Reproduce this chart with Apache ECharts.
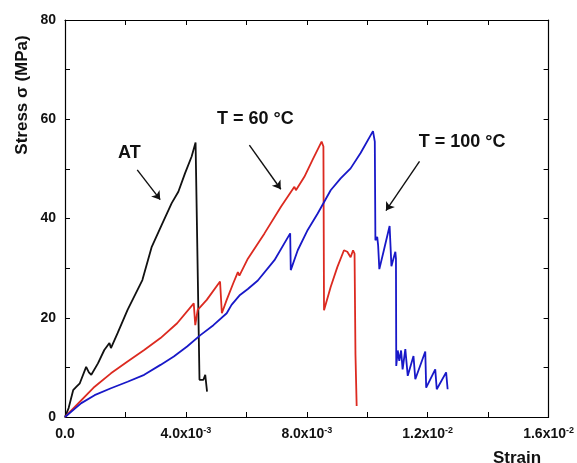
<!DOCTYPE html>
<html>
<head>
<meta charset="utf-8">
<script src="https://cdn.jsdelivr.net/npm/echarts@6/dist/echarts.min.js"></script>
<style>html,body{margin:0;padding:0;background:#fff;}#c{width:577px;height:463px;}</style>
</head>
<body>
<div id="c"></div>
<script>
// ---- data (strain, stress in MPa) ----
const atStrain = [0, 0.00012, 0.00027, 0.00038, 0.00049, 0.0007, 0.00079, 0.00087, 0.00109, 0.0013, 0.00147, 0.00152, 0.00174, 0.00207, 0.00256, 0.00287, 0.0032, 0.00353, 0.00375, 0.00397, 0.00419, 0.00432, 0.00437, 0.00445, 0.00458, 0.00464, 0.0047];
const atStress = [0, 1.8, 5.4, 6.1, 6.8, 10.1, 9.0, 8.5, 10.8, 13.5, 14.9, 13.9, 16.9, 21.6, 27.6, 34.3, 38.7, 43.1, 45.4, 49.1, 52.5, 55.3, 54.9, 7.5, 7.5, 8.5, 5.1];

const t60Strain = [0, 0.00098, 0.00152, 0.00207, 0.00262, 0.00316, 0.00371, 0.00426, 0.00431, 0.00439, 0.00469, 0.00513, 0.00519, 0.00535, 0.00557, 0.00572, 0.00577, 0.00605, 0.0066, 0.00715, 0.00759, 0.00764, 0.00792, 0.00819, 0.00849, 0.00855, 0.00857, 0.00879, 0.00901, 0.00923, 0.00934, 0.00945, 0.00953, 0.00958, 0.00961, 0.00965];
const t60Stress = [0, 6.1, 8.8, 11.2, 13.5, 15.9, 18.9, 22.9, 18.5, 21.6, 23.6, 27.3, 20.9, 23.6, 27.0, 29.2, 28.5, 31.9, 37.0, 42.4, 46.4, 45.7, 48.4, 51.8, 55.5, 54.5, 21.5, 26.2, 30.2, 33.6, 33.3, 32.2, 33.6, 32.9, 12.7, 2.2];

const t100Strain = [0, 0.00054, 0.00098, 0.00152, 0.00207, 0.00262, 0.00316, 0.0036, 0.00404, 0.00448, 0.00491, 0.00535, 0.00551, 0.00579, 0.00605, 0.00638, 0.00693, 0.00745, 0.00747, 0.0077, 0.00803, 0.00836, 0.00879, 0.00912, 0.00945, 0.00978, 0.01019, 0.01025, 0.01027, 0.01033, 0.01036, 0.0104, 0.01055, 0.01074, 0.0108, 0.01088, 0.01093, 0.01095, 0.01096, 0.01101, 0.01106, 0.01112, 0.01117, 0.01126, 0.01134, 0.01153, 0.01159, 0.01192, 0.01195, 0.01225, 0.0123, 0.01261, 0.01266];
const t100Stress = [0, 2.8, 4.4, 5.8, 7.1, 8.5, 10.5, 12.2, 14.2, 16.5, 18.5, 20.9, 22.6, 24.6, 25.8, 27.5, 31.6, 37.0, 29.6, 33.6, 37.7, 41.0, 45.7, 48.1, 50.1, 53.2, 57.6, 55.5, 35.6, 36.3, 34.6, 29.8, 33.6, 38.5, 30.4, 32.2, 33.3, 31.9, 10.3, 13.4, 11.3, 13.4, 9.6, 13.7, 8.3, 12.3, 7.6, 13.2, 5.9, 9.6, 5.6, 9.0, 5.6];

// tick labels
const xLabelValues = [0, 0.004, 0.008, 0.012, 0.016];
const xLabelMantissas = ['0.0', '4.0', '8.0', '1.2', '1.6'];
const xLabelExponents = ['', '-3', '-3', '-2', '-2'];
const yLabelValues = [0, 20, 40, 60, 80];

// annotations (data coordinates)
const annoTexts = ['AT', 'T = 60 °C', 'T = 100 °C'];
const annoTextPos = [[0.00213, 53.1], [0.0063, 60.1], [0.01314, 55.5]];
const arrowStart = [[0.00239, 49.8], [0.0061, 54.8], [0.01173, 51.5]];
const arrowEnd = [[0.00315, 43.8], [0.00714, 45.9], [0.01062, 41.6]];

const FONT = "'Liberation Sans', Arial, sans-serif";
const zip = (a, b) => a.map((v, i) => [v, b[i]]);

const chart = echarts.init(document.getElementById('c'), null, {renderer: 'canvas'});

const xFmt = function (v) {
  for (let i = 0; i < xLabelValues.length; i++) {
    if (Math.abs(v - xLabelValues[i]) < 1e-9) {
      return xLabelExponents[i] ? '{m|' + xLabelMantissas[i] + 'x10}{e|' + xLabelExponents[i] + '}' : '{m|' + xLabelMantissas[i] + '}';
    }
  }
  return '';
};
const yFmt = function (v) {
  return yLabelValues.indexOf(Math.round(v)) >= 0 && Math.abs(v - Math.round(v)) < 1e-9 ? String(Math.round(v)) : '';
};

const axisLine = {show: true, onZero: false, lineStyle: {color: '#000', width: 1.2}};
const axisTick = {show: true, inside: true, length: 5, lineStyle: {color: '#000', width: 1}};

const markLineData = arrowStart.map((s, i) => [{coord: s}, {coord: arrowEnd[i]}]);
const markPointData = annoTexts.map((t, i) => ({coord: annoTextPos[i], value: t}));

chart.setOption({
  animation: false,
  backgroundColor: '#fff',
  grid: {left: 65, right: 23, top: 20, bottom: 46, containLabel: false},
  xAxis: [
    {
      type: 'value', min: 0, max: 0.016, interval: 0.002, position: 'bottom',
      axisLine, axisTick, splitLine: {show: false},
      axisLabel: {
        formatter: xFmt, margin: 9, color: '#111',
        rich: {
          m: {fontSize: 14, fontWeight: 'bold', fontFamily: FONT, color: '#111', lineHeight: 16},
          e: {fontSize: 9, fontWeight: 'bold', fontFamily: FONT, color: '#111', verticalAlign: 'top', lineHeight: 9}
        }
      }
    },
    {
      type: 'value', min: 0, max: 0.016, interval: 0.002, position: 'top',
      axisLine, axisTick, splitLine: {show: false}, axisLabel: {show: false}
    }
  ],
  yAxis: [
    {
      type: 'value', min: 0, max: 80, interval: 10, position: 'left',
      axisLine, axisTick, splitLine: {show: false},
      axisLabel: {formatter: yFmt, margin: 9, fontSize: 14, fontWeight: 'bold', fontFamily: FONT, color: '#111'}
    },
    {
      type: 'value', min: 0, max: 80, interval: 10, position: 'right',
      axisLine, axisTick, splitLine: {show: false}, axisLabel: {show: false}
    }
  ],
  series: [
    {
      name: 'AT', type: 'line', data: zip(atStrain, atStress), showSymbol: false, symbol: 'none',
      lineStyle: {color: '#111', width: 1.8}, itemStyle: {color: '#111'},
      markLine: {
        silent: true, symbol: ['none', 'arrow'], symbolSize: 8, animation: false,
        label: {show: false}, lineStyle: {color: '#111', width: 1.4, type: 'solid'},
        data: markLineData
      },
      markPoint: {
        silent: true, symbol: 'circle', symbolSize: 0, animation: false,
        label: {show: true, position: 'inside', formatter: p => p.value, fontSize: 18, fontWeight: 'bold', fontFamily: FONT, color: '#111'},
        data: markPointData
      }
    },
    {
      name: 'T = 60 °C', type: 'line', data: zip(t60Strain, t60Stress), showSymbol: false, symbol: 'none',
      lineStyle: {color: '#dc2a20', width: 1.8}, itemStyle: {color: '#dc2a20'}
    },
    {
      name: 'T = 100 °C', type: 'line', data: zip(t100Strain, t100Stress), showSymbol: false, symbol: 'none',
      lineStyle: {color: '#1818c8', width: 1.8}, itemStyle: {color: '#1818c8'}
    }
  ],
  graphic: [
    {
      type: 'text', x: 22, y: 95, rotation: Math.PI / 2,
      style: {text: 'Stress σ (MPa)', fontSize: 17, fontWeight: 'bold', fontFamily: FONT, fill: '#111', align: 'center', verticalAlign: 'middle'}
    },
    {
      type: 'text', x: 517, y: 458,
      style: {text: 'Strain', fontSize: 17, fontWeight: 'bold', fontFamily: FONT, fill: '#111', align: 'center', verticalAlign: 'middle'}
    }
  ]
});
</script>
</body>
</html>
